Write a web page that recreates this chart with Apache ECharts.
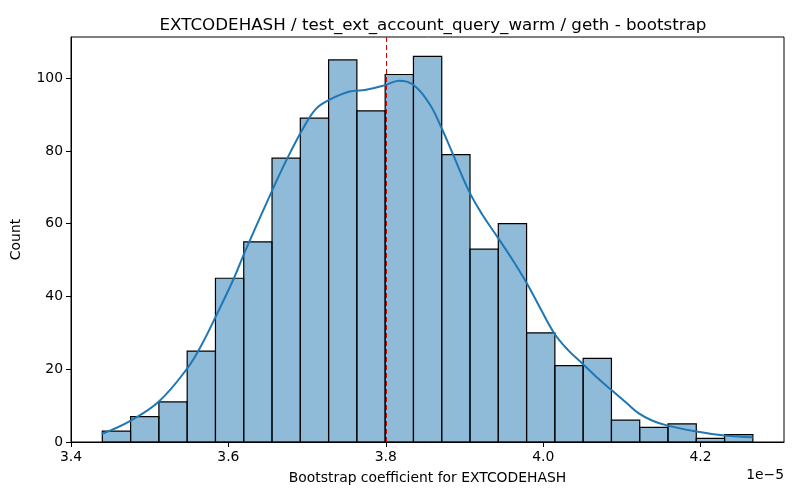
<!DOCTYPE html>
<html>
<head>
<meta charset="utf-8">
<script src="https://cdn.jsdelivr.net/npm/echarts@6/dist/echarts.min.js"></script>
<style>
  html, body { margin: 0; padding: 0; background: #fff; }
  #chart { width: 800px; height: 500px; }
</style>
</head>
<body>
<div id="chart"></div>
<script>
// histogram bins (x in units of 1e-5)
var binStart = 3.4398;
var binWidth = 0.03594;
var counts = [3, 7, 11, 25, 45, 55, 78, 89, 105, 91, 101, 106, 79, 53, 60, 30, 21, 23, 6, 4, 5, 1, 2];

// kde curve (scaled to counts)
var kdeX = [3.439, 3.476, 3.512, 3.548, 3.565, 3.584, 3.607, 3.622, 3.656, 3.675, 3.694, 3.711, 3.728, 3.754, 3.775, 3.798, 3.817, 3.834, 3.855, 3.870, 3.883, 3.906, 3.923, 3.942, 3.961, 3.979, 3.995, 4.014, 4.031, 4.050, 4.067, 4.086, 4.106, 4.122, 4.139, 4.158, 4.195, 4.230, 4.266];
var kdeY = [2.2, 5.9, 11.2, 20.3, 26.3, 34.5, 45.0, 52.8, 69.3, 78.0, 85.8, 91.5, 94.0, 96.3, 96.8, 98.0, 99.3, 98.3, 93.1, 86.7, 80.3, 68.8, 62.4, 56.3, 50.1, 43.7, 37.3, 29.9, 25.4, 21.5, 18.0, 14.4, 10.7, 7.8, 5.85, 4.5, 2.9, 1.8, 1.3];

var meanLine = 3.8;
var xTicks = [3.4, 3.6, 3.8, 4.0, 4.2];
var yTicks = [0, 20, 40, 60, 80, 100];

var font = 'DejaVu Sans';

var bars = counts.map(function (c, i) {
  return [binStart + i * binWidth, binStart + (i + 1) * binWidth, c];
});
var kde = kdeX.map(function (x, i) { return [x, kdeY[i]]; });

var chart = echarts.init(document.getElementById('chart'));

var option = {
  animation: false,
  backgroundColor: '#fff',
  title: {
    text: 'EXTCODEHASH / test_ext_account_query_warm / geth - bootstrap',
    left: 428, top: 12, textAlign: 'center',
    textStyle: { fontFamily: font, fontSize: 16.7, fontWeight: 'normal', color: '#000' }
  },
  grid: {
    left: 71, right: 16, top: 37, bottom: 58,
    show: true, borderColor: '#000', borderWidth: 1, backgroundColor: '#fff'
  },
  xAxis: {
    type: 'value', min: 3.4, max: 4.306,
    name: 'Bootstrap coefficient for EXTCODEHASH',
    nameLocation: 'middle', nameGap: 29,
    nameTextStyle: { fontFamily: font, fontSize: 13.9, color: '#000' },
    splitLine: { show: false },
    axisLine: { show: true, lineStyle: { color: '#000' } },
    axisTick: { show: true, length: 5, customValues: xTicks, lineStyle: { color: '#000' } },
    axisLabel: {
      customValues: xTicks, fontFamily: font, fontSize: 13.9, color: '#000', margin: 8,
      formatter: function (v) { return v.toFixed(1); }
    }
  },
  yAxis: {
    type: 'value', min: 0, max: 111.3,
    name: 'Count', nameLocation: 'middle', nameGap: 48, nameRotate: 90,
    nameTextStyle: { fontFamily: font, fontSize: 13.9, color: '#000' },
    splitLine: { show: false },
    axisLine: { show: true, lineStyle: { color: '#000' } },
    axisTick: { show: true, length: 5, customValues: yTicks, lineStyle: { color: '#000' } },
    axisLabel: { customValues: yTicks, fontFamily: font, fontSize: 13.9, color: '#000', margin: 8 }
  },
  graphic: [{
    type: 'text', right: 16, top: 468,
    style: { text: '1e\u22125', font: '13.9px "DejaVu Sans"', fill: '#000' }
  }],
  series: [
    {
      type: 'custom',
      data: bars,
      encode: { x: [0, 1], y: 2 },
      renderItem: function (params, api) {
        var p0 = api.coord([api.value(0), api.value(2)]);
        var p1 = api.coord([api.value(1), 0]);
        return {
          type: 'rect',
          shape: { x: p0[0], y: p0[1], width: p1[0] - p0[0], height: p1[1] - p0[1] },
          style: { fill: 'rgba(31,119,180,0.5)', stroke: '#000', lineWidth: 1.2 }
        };
      },
      z: 2
    },
    {
      type: 'line',
      data: kde,
      smooth: 0.4,
      showSymbol: false,
      lineStyle: { color: '#1f77b4', width: 2 },
      z: 3,
      markLine: {
        silent: true, symbol: 'none', label: { show: false },
        lineStyle: { color: '#e00000', type: [5, 3], width: 1 },
        data: [{ xAxis: meanLine }]
      }
    }
  ]
};

chart.setOption(option);
</script>
</body>
</html>
